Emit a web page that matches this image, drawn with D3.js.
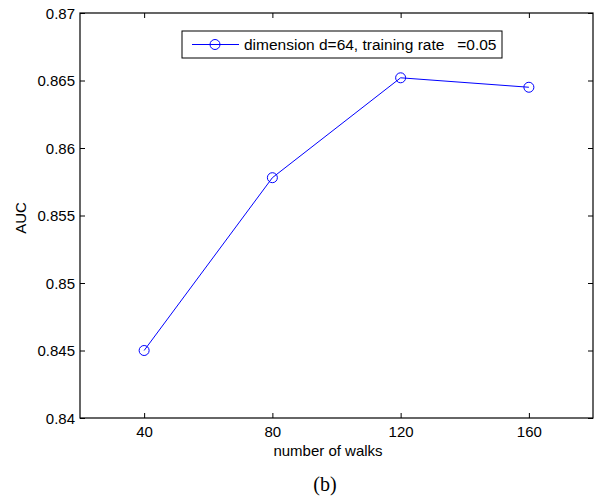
<!DOCTYPE html>
<html><head><meta charset="utf-8">
<script src="https://cdn.jsdelivr.net/npm/d3@7"></script>
<style>body{margin:0;background:#fff}svg{display:block}</style>
</head><body><svg id="c" width="597" height="499"></svg>
<script>
const walks = [40, 80, 120, 160];
const auc = [0.845, 0.8578, 0.8652, 0.8645];
const xTicks = [40, 80, 120, 160];
const yTicks = [0.84, 0.845, 0.85, 0.855, 0.86, 0.865, 0.87];
const yTickLabels = ["0.84", "0.845", "0.85", "0.855", "0.86", "0.865", "0.87"];
const legendLabel = "dimension d=64, training rate   =0.05";

const SANS = '"Liberation Sans", Arial, sans-serif';
const SERIF = '"Liberation Serif", "Times New Roman", serif';
const svg = d3.select("#c");
const L = 80, R = 593, T = 13, B = 418;
const x = d3.scaleLinear().domain([20, 180]).range([L, R]);
const y = d3.scaleLinear().domain([0.84, 0.87]).range([B, T]);
const fs = 15;

// frame
svg.append("rect").attr("x", L).attr("y", T).attr("width", R - L).attr("height", B - T)
  .attr("fill", "none").attr("stroke", "#000").attr("stroke-width", 1.2);

// axes
const xb = svg.append("g").attr("transform", `translate(0,${B})`)
  .call(d3.axisBottom(x).tickValues(xTicks).tickSizeInner(-5).tickSizeOuter(0).tickPadding(8));
const xt = svg.append("g").attr("transform", `translate(0,${T})`)
  .call(d3.axisTop(x).tickValues(xTicks).tickSizeInner(-5).tickSizeOuter(0).tickFormat(""));
const yl = svg.append("g").attr("transform", `translate(${L},0)`)
  .call(d3.axisLeft(y).tickValues(yTicks).tickSizeInner(-5).tickSizeOuter(0).tickPadding(5)
    .tickFormat((d, i) => yTickLabels[i]));
const yr = svg.append("g").attr("transform", `translate(${R},0)`)
  .call(d3.axisRight(y).tickValues(yTicks).tickSizeInner(-5).tickSizeOuter(0).tickFormat(""));
[xb, xt, yl, yr].forEach(g => {
  g.select(".domain").remove();
  g.selectAll("line").attr("stroke", "#000");
  g.selectAll("text").attr("font-size", fs).attr("fill", "#000").style("font-family", SANS);
});
yl.selectAll("text").attr("dy", "0.35em");

// labels
svg.append("text").attr("x", 328).attr("y", 456).attr("text-anchor", "middle")
  .attr("font-size", fs).style("font-family", SANS).text("number of walks");
svg.append("text").attr("transform", "translate(26,218) rotate(-90)").attr("text-anchor", "middle")
  .attr("font-size", fs).style("font-family", SANS).text("AUC");
svg.append("text").attr("x", 325).attr("y", 491).attr("text-anchor", "middle")
  .attr("font-size", 20).style("font-family", SERIF).text("(b)");

// data
const data = walks.map((w, i) => ({w, v: auc[i]}));
svg.append("path").datum(data)
  .attr("d", d3.line().x(d => x(d.w)).y(d => y(d.v)))
  .attr("fill", "none").attr("stroke", "#0000ff").attr("stroke-width", 1);
svg.selectAll("circle.pt").data(data).join("circle").attr("class", "pt")
  .attr("cx", d => x(d.w)).attr("cy", d => y(d.v)).attr("r", 5)
  .attr("fill", "none").attr("stroke", "#0000ff").attr("stroke-width", 1);

// legend
const lg = svg.append("g");
lg.append("rect").attr("x", 182).attr("y", 31).attr("width", 320).attr("height", 27)
  .attr("fill", "#fff").attr("stroke", "#000").attr("stroke-width", 1);
lg.append("line").attr("x1", 192).attr("x2", 239).attr("y1", 44.5).attr("y2", 44.5)
  .attr("stroke", "#0000ff").attr("stroke-width", 1);
lg.append("circle").attr("cx", 215).attr("cy", 44.5).attr("r", 5)
  .attr("fill", "none").attr("stroke", "#0000ff").attr("stroke-width", 1);
lg.append("text").attr("x", 244).attr("y", 50).attr("font-size", 15.5).style("font-family", SANS)
  .attr("xml:space", "preserve").style("white-space", "pre").text(legendLabel);
</script></body></html>
